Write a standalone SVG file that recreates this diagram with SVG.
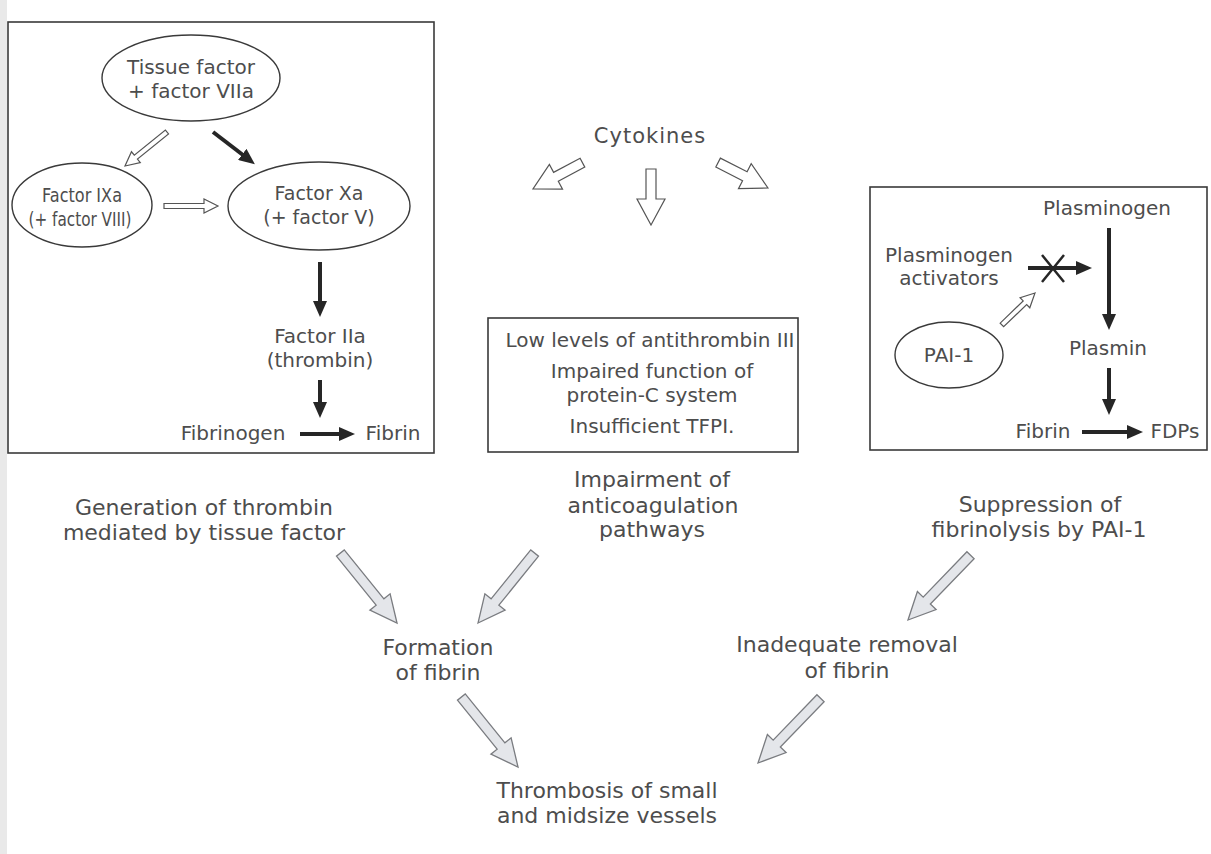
<svg xmlns="http://www.w3.org/2000/svg" width="1211" height="854" viewBox="0 0 1211 854">
<style>
text{font-family:"DejaVu Sans","Liberation Sans",sans-serif;fill:#4d4d4d;text-anchor:middle}
.s{font-size:20px}
.l{font-size:22px}
.box{fill:none;stroke:#3a3a3a;stroke-width:1.6}
.ell{fill:none;stroke:#3a3a3a;stroke-width:1.4}
.blk{stroke:#262626;stroke-width:4;fill:none;marker-end:url(#bh)}
.hol{fill:#fff;stroke:#555;stroke-width:1.2}
.gry{fill:#e4e6ea;stroke:#7a7c80;stroke-width:1.3}
</style>
<defs>
<marker id="bh" markerUnits="userSpaceOnUse" markerWidth="16" markerHeight="14" refX="1" refY="7" orient="auto"><path d="M0,0 L16,7 L0,14 z" fill="#262626"/></marker>
<path id="ga" d="M0,0 L-27,-13 L-27,-5 L-90,-5 L-90,5 L-27,5 L-27,13 Z"/>
<path id="ca" d="M0,0 L-26,-14 L-26,-5 L-56,-5 L-56,5 L-26,5 L-26,14 Z"/>
<path id="sa" d="M0,0 L-14,-7 L-14,-2.5 L-54,-2.5 L-54,2.5 L-14,2.5 L-14,7 Z"/>
<path id="sb" d="M0,0 L-14,-7 L-14,-2.5 L-46,-2.5 L-46,2.5 L-14,2.5 L-14,7 Z"/>
</defs>
<rect width="1211" height="854" fill="#fff"/>
<rect x="0" y="0" width="7" height="854" fill="#e9e9e9"/>

<g id="box-tissue-factor-pathway"><rect class="box" x="8" y="22" width="426" height="431"/></g>
<g id="box-anticoagulation"><rect class="box" x="488" y="318" width="310" height="134"/></g>
<g id="box-fibrinolysis"><rect class="box" x="870" y="187" width="337" height="263"/></g>

<g id="n-tissue-factor"><ellipse class="ell" cx="191" cy="78" rx="89" ry="43"/><text class="s" x="191" y="74">Tissue factor</text><text class="s" x="191" y="98">+ factor VIIa</text></g>
<g id="n-factor-ixa"><ellipse class="ell" cx="82" cy="205" rx="70" ry="42"/><text x="82" y="202" font-size="19" textLength="80" lengthAdjust="spacingAndGlyphs">Factor IXa</text><text x="80" y="226" font-size="19" textLength="103" lengthAdjust="spacingAndGlyphs">(+ factor VIII)</text></g>
<g id="n-factor-xa"><ellipse class="ell" cx="319" cy="206" rx="91" ry="44"/><text x="319" y="200" font-size="19">Factor Xa</text><text x="319" y="224" font-size="19">(+ factor V)</text></g>
<g id="n-factor-iia"><text class="s" x="320" y="343">Factor IIa</text><text class="s" x="320" y="367">(thrombin)</text></g>
<g id="n-fibrinogen"><text class="s" x="233" y="440">Fibrinogen</text></g>
<g id="n-fibrin-left"><text class="s" x="393" y="440">Fibrin</text></g>

<g id="n-cytokines"><text x="650" y="143" font-size="21" letter-spacing="1">Cytokines</text></g>

<g id="n-anticoag-list">
<text class="s" x="650" y="347">Low levels of antithrombin III</text>
<text class="s" x="652" y="378">Impaired function of</text>
<text class="s" x="652" y="402">protein-C system</text>
<text class="s" x="652" y="433">Insufficient TFPI.</text>
</g>

<g id="n-plasminogen"><text class="s" x="1107" y="215">Plasminogen</text></g>
<g id="n-plasminogen-activators"><text class="s" x="949" y="262">Plasminogen</text><text class="s" x="949" y="285">activators</text></g>
<g id="n-pai1"><ellipse class="ell" cx="949" cy="355" rx="54" ry="33"/><text class="s" x="949" y="362">PAI-1</text></g>
<g id="n-plasmin"><text class="s" x="1108" y="355">Plasmin</text></g>
<g id="n-fibrin-right"><text class="s" x="1043" y="438">Fibrin</text></g>
<g id="n-fdps"><text class="s" x="1175" y="438">FDPs</text></g>

<g id="n-generation"><text class="l" x="204" y="515">Generation of thrombin</text><text class="l" x="204" y="540">mediated by tissue factor</text></g>
<g id="n-impairment"><text class="l" x="652" y="487">Impairment of</text><text class="l" x="653" y="513">anticoagulation</text><text class="l" x="652" y="537">pathways</text></g>
<g id="n-suppression"><text class="l" x="1040" y="512">Suppression of</text><text class="l" x="1039" y="537">fibrinolysis by PAI-1</text></g>
<g id="n-formation"><text class="l" x="438" y="655">Formation</text><text class="l" x="438" y="680">of fibrin</text></g>
<g id="n-inadequate"><text class="l" x="847" y="652">Inadequate removal</text><text class="l" x="847" y="678">of fibrin</text></g>
<g id="n-thrombosis"><text class="l" x="607" y="798">Thrombosis of small</text><text class="l" x="607" y="823">and midsize vessels</text></g>

<g id="connectors">
<line class="blk" x1="213" y1="132" x2="243" y2="155"/>
<line class="blk" x1="320" y1="262" x2="320" y2="302"/>
<line class="blk" x1="320" y1="380" x2="320" y2="403"/>
<line class="blk" x1="300" y1="434" x2="340" y2="434" stroke-width="5"/>
<line class="blk" x1="1109" y1="228" x2="1109" y2="315"/>
<line class="blk" x1="1109" y1="368" x2="1109" y2="400"/>
<line class="blk" x1="1082" y1="432" x2="1128" y2="432" stroke-width="5"/>
<line class="blk" x1="1028" y1="268" x2="1077" y2="268"/>
<path d="M1042,255 L1064,282 M1042,282 L1064,255" stroke="#262626" stroke-width="2.5" fill="none"/>
<use href="#sa" class="hol" transform="translate(125,166) rotate(141)"/>
<use href="#sa" class="hol" transform="translate(218,206)"/>
<use href="#sb" class="hol" transform="translate(1035,293) rotate(-44)"/>
<use href="#ca" class="hol" transform="translate(533,189) rotate(152)"/>
<use href="#ca" class="hol" transform="translate(651,225) rotate(90)"/>
<use href="#ca" class="hol" transform="translate(768,188) rotate(27)"/>
<use href="#ga" class="gry" transform="translate(397,623) rotate(51)"/>
<use href="#ga" class="gry" transform="translate(478,623) rotate(129)"/>
<use href="#ga" class="gry" transform="translate(518,767) rotate(51)"/>
<use href="#ga" class="gry" transform="translate(758,763) rotate(134)"/>
<use href="#ga" class="gry" transform="translate(908,620) rotate(134)"/>
</g>
</svg>
